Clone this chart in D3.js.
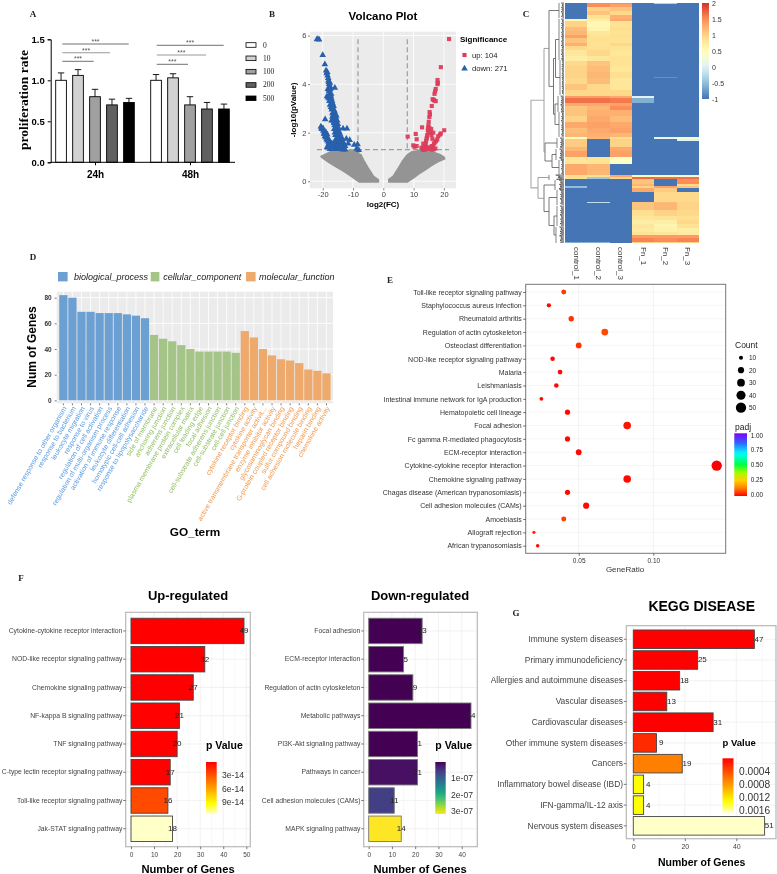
<!DOCTYPE html>
<html><head><meta charset="utf-8">
<script src="https://cdn.jsdelivr.net/npm/d3@7/dist/d3.min.js"></script>
<style>
html,body{margin:0;padding:0;background:#fff;}
svg{display:block;filter:blur(0.35px);}
text{font-family:"Liberation Sans",Arial,sans-serif;}
.serif{font-family:"Liberation Serif",serif;}
</style></head><body><svg id="c" width="777" height="874"></svg>
<script>
// ---------- A
const prolGroups=["24h","48h"];
const prolDoses=["0","10","100","200","500"];
const prolColors=["#ffffff","#d2d2d2","#a0a0a0","#606060","#000000"];
const prolMeans=[[1.0,1.06,0.80,0.70,0.73],[1.0,1.03,0.70,0.65,0.65]];
const prolErr=[[0.09,0.07,0.09,0.07,0.05],[0.07,0.05,0.10,0.08,0.06]];
const prolTicks=[0,0.5,1.0,1.5];
// ---------- B
const downX=[-21.9,-21.6,-21.2,-20,-19.3,-18.9,-18.7,-18.5,-18.4,-18.2,-18,-17.9,-17.7,-17.6,-17.4,-16,-18.3,-17.9,-17.6,-17.3,-17.1,-16.9,-18.6,-18.2,-17.8,-17.6,-17.3,-17,-16.8,-16.6,-16.4,-16.2,-16,-17.1,-16.8,-16.5,-16.3,-16.1,-15.9,-15.7,-15.5,-15.3,-15.1,-14.9,-14.7,-14.5,-14.3,-14.1,-13.8,-13.5,-13.2,-12.9,-12.7,-16.2,-16,-15.8,-15.6,-15.4,-15.2,-15,-14.8,-14.6,-14.4,-14.2,-14,-19.2,-20.6,-20.4,-20.1,-19.8,-19.5,-19.2,-18.9,-18.6,-18.3,-18,-17.7,-17.4,-17.1,-16.8,-16.5,-16.2,-15.9,-15.6,-15.3,-13.3,-12,-12.2,-11.1,-11.6,-12.6,-9.6,-8.5,-8.8,-8.1,-18,-18.6,-17.1,-17.6,-16.6,-16.2,-15.8,-15.2,-14.7,-14.3,-13.7,-13.3,
-18.1,-17.8,-17.5,-17.9,-17.5,-17.2,-17,-16.7,-16.9,-16.4,-16.6,-16.1,-15.9,-15.7,-16.2,-15.5,-15.2,-15,-14.8,-15.5,-15.3,-14.6,-14.3,-14.8,-14.5,-14.1,-13.8,-13.5,-13.2,-15.1,-16.9,-16.3,-15.4,-14.9,-20.3,-19.9,-19.6,-19.3,-19,-18.7,-18.4,-18.1,-17.8,-17.5,-17.2,-16.9,-19,-18.5];
const downY=[5.85,5.86,5.84,5.2,4.82,4.56,4.45,4.5,4.35,4.25,4.08,4.0,3.92,4.05,3.85,3.85,3.8,3.7,3.6,3.5,3.4,3.3,3.5,3.45,3.3,3.15,3.05,2.95,2.8,3.0,2.85,2.75,2.6,2.5,2.65,2.5,2.4,2.3,2.55,2.4,2.4,2.25,2.1,2.0,1.95,1.85,1.8,1.7,1.6,1.5,1.42,1.35,1.3,2.15,2.0,1.9,1.75,1.65,1.55,1.5,1.42,1.35,1.5,1.6,1.4,2.55,2.25,2.2,2.15,2.08,2.0,1.95,1.88,1.82,1.76,1.7,1.65,1.58,1.52,1.48,1.42,1.38,1.33,1.35,1.32,2.17,2.17,1.75,1.7,1.55,1.45,1.5,1.52,1.34,1.28,1.55,1.4,1.42,1.33,1.32,1.58,1.33,1.45,1.32,1.36,1.34,1.3,
4.15,3.75,3.8,3.4,3.55,3.6,3.15,3.2,3.0,3.1,2.7,2.9,2.8,2.65,2.45,2.7,2.5,2.35,2.2,2.1,1.95,2.05,1.95,1.75,1.6,1.5,1.4,1.75,1.6,1.7,1.38,1.32,1.45,1.33,2.15,2.18,1.95,1.85,1.8,1.72,1.68,1.62,1.57,1.5,1.45,1.55,2.03,1.92];
const upX=[21.7,19,17.9,18,17.9,17.3,17.1,16.9,16.6,16.3,16.8,17.3,16,15.3,15.4,15.2,15,14.9,14.8,14.7,14.9,14.5,14.4,14.3,14.1,14,13.8,13.7,13.5,13.3,13.1,15.2,15.8,15.5,16.5,15.9,16.2,12.8,20.1,19,18.7,18.1,17.8,17.4,17,16.7,16.4,16,15.5,15.1,14.7,17.2,16.7,16.2,10.7,11,8.05,9.9,11,10.3,13.2,12.6,13.6];
const upY=[5.86,4.7,4.17,4.05,4.0,3.8,3.7,3.6,3.35,3.38,3.33,3.3,3.1,2.85,2.75,2.65,2.45,2.3,2.2,2.1,2.0,1.9,1.8,1.75,1.65,1.55,1.45,1.38,1.32,1.4,1.3,2.2,2.15,2.0,2.0,1.9,1.75,2.22,2.1,1.97,1.92,1.85,1.72,1.65,1.6,1.55,1.42,1.45,1.35,1.4,1.33,1.35,1.32,1.3,1.95,1.73,1.84,1.48,1.45,1.42,1.55,1.38,1.3];
const grayLeftX=[-20.6,-19,-17,-15,-13,-11,-9.5,-8.3,-8,-7.4,-6.4,-5,-3.2,-1.8,-1.6,-1.6,-8,-10,-12,-14,-16,-18,-20];
const grayLeftY=[1.02,1.12,1.25,1.32,1.32,1.25,1.25,1.3,1.1,1.1,0.85,0.55,0.2,0.08,0.05,-0.03,-0.03,0.15,0.32,0.48,0.62,0.78,0.95];
const grayRightX=[1.8,3.2,5,6.4,8,9.5,11,13,15,17,19,20,20.3,18,16,14,12,10,8,1.8];
const grayRightY=[0.08,0.2,0.55,0.85,1.1,1.22,1.25,1.32,1.25,1.18,1.08,1.0,0.92,0.8,0.65,0.48,0.32,0.14,-0.03,-0.03];
const volcanoXTicks=[-20,-10,0,10,20];
const volcanoYTicks=[0,2,4,6];
// ---------- C  [rows, control_1, control_2, control_3, Fn_1, Fn_2, Fn_3]
const heatSamples=["control_1","control_2","control_3","Fn_1","Fn_2","Fn_3"];
const heatBands=[
[1,-1,1.5,1.5,-1,-0.3,-1],[3,-1,1.5,1.35,-1,-1,-1],[4,-1,1.0,1.1,-1,-1,-1],[4,-1,1.1,0.95,-1,-1,-1],[4,-1,0.85,1.25,-1,-1,-1],
[2,0.6,0.7,1.3,-1,-1,-1],[6,1.0,0.55,0.85,-1,-1,-1],[4,1.15,0.6,0.9,-1,-1,-1],[4,1.2,0.8,0.85,-1,-1,-1],[3,1.35,0.85,0.9,-1,-1,-1],
[5,1.1,0.9,0.85,-1,-1,-1],[3,1.25,0.85,0.95,-1,-1,-1],[4,0.95,0.9,0.85,-1,-1,-1],[6,0.8,0.95,0.8,-1,-1,-1],[5,0.7,0.8,0.85,-1,-1,-1],
[4,0.95,1.1,0.85,-1,-1,-1],[6,1.0,1.15,0.8,-1,-1,-1],[5,1.0,1.2,0.9,-1,-1,-1],[1,1.0,1.2,0.9,-1,-0.8,-1],[6,0.95,1.15,0.8,-1,-1,-1],[6,1.1,0.95,0.8,-1,-1,-1],
[6,0.95,0.95,0.95,-1,-1,-1],[2,1.4,1.4,1.3,0.0,-1,-1],[5,1.65,1.65,1.6,-0.6,-1,-1],[3,1.3,1.3,1.35,-1,-1,-1],[4,1.1,1.2,1.5,-1,-1,-1],
[6,1.1,1.25,1.25,-1,-1,-1],[6,1.0,1.3,1.15,-1,-1,-1],[6,1.3,1.35,1.3,-1,-1,-1],[5,1.15,1.3,1.35,-1,-1,-1],[4,1.2,1.25,1.2,-1,-1,-1],
[2,0.5,1.2,0.9,-1,0.1,0.3],[2,1.05,-1,1.0,-1,-1,0.0],[6,1.05,-1,1.0,-1,-1,-1],[4,1.2,-1,1.3,-1,-1,-1],[6,1.35,-1,1.35,-1,-1,-1],
[7,0.8,0.85,0.4,-1,-1,-1],[11,1.3,1.2,-1,-1,-1,-1],[2,0.9,0.9,1.3,0.5,0.5,0.3],[2,0.9,-0.4,1.0,1.7,1.65,1.65],[4,-1,-1,-1,1.1,-1,1.5],[2,-1,-1,-1,1.2,-1,0.95],
[2,-0.5,-1,-1,1.0,1.35,1.1],[4,-1,-1,-1,1.3,1.05,-1],[10,-1,-1,-1,-1,0.95,0.95],[1,-1,-0.2,-1,1.1,1.15,1.0],[7,-1,-1,-1,1.1,1.2,1.0],
[6,-1,-1,-1,0.9,1.0,0.95],[4,-1,-1,-1,0.8,0.85,0.9],[4,-1,-1,-1,0.7,0.7,0.95],[4,-1,-1,-1,0.8,0.6,0.85],[4,-1,-1,-1,0.75,0.65,0.7],[3,-1,-1,-1,0.85,0.8,0.75],
[3,-1,-1,-1,1.4,1.4,1.4],[4,-1,-1,-1,1.55,1.5,1.55],[1,-0.6,-0.6,-1,1.0,1.0,1.0]];
const heatLegendTicks=[-1,-0.5,0,0.5,1,1.5,2];
const heatStops=[-1,-0.5,0,0.45,0.9,1.5,2];
const heatPalette=["#4575B4","#91BFDB","#E0F3F8","#FFFFBF","#FEE090","#FC8D59","#D73027"];
// ---------- D
const goTerms=["defense response to other organism","response to bacterium","leukocyte migration","response to virus","regulation of cell activation","regulation of multi-organism process","activation of immune response","leukocyte differentiation","homotypic cell-cell adhesion","response to lipopolysaccharide","side of membrane","anchoring junction","adherens junction","plasma membrane protein complex","extracellular matrix","cell leading edge","focal adhesion","cell-substrate adherens junction","cell-substrate junction","cell-cell junction","cytokine receptor binding","cytokine activity","active transmembrane transporter activit...","enzyme inhibitor activity","glycosaminoglycan binding","G-protein coupled receptor binding","sulfur compound binding","cell adhesion molecule binding","heparin binding","chemokine activity"];
const goValues=[82,80,69,69,68,68,68,67,66,64,51,48,46,43,40,38,38,38,38,37,54,49,40,35,32,31,29,24,23,21];
const goGroups=["biological_process","cellular_component","molecular_function"];
const goGroupOfTerm=[0,0,0,0,0,0,0,0,0,0,1,1,1,1,1,1,1,1,1,1,2,2,2,2,2,2,2,2,2,2];
const goColors=["#6c9fd2","#a4c587","#eea96d"];
const goTextColors=["#5a9ce0","#94c068","#f09a50"];
const goYTicks=[0,20,40,60,80];
// ---------- E
const keggTerms=["Toll-like receptor signaling pathway","Staphylococcus aureus infection","Rheumatoid arthritis","Regulation of actin cytoskeleton","Osteoclast differentiation","NOD-like receptor signaling pathway","Malaria","Leishmaniasis","Intestinal immune network for IgA production","Hematopoietic cell lineage","Focal adhesion","Fc gamma R-mediated phagocytosis","ECM-receptor interaction","Cytokine-cytokine receptor interaction","Chemokine signaling pathway","Chagas disease (American trypanosomiasis)","Cell adhesion molecules (CAMs)","Amoebiasis","Allograft rejection","African trypanosomiasis"];
const keggRatio=[0.040,0.030,0.045,0.0675,0.050,0.0325,0.0375,0.035,0.025,0.0425,0.0825,0.0425,0.050,0.1425,0.0825,0.0425,0.055,0.040,0.020,0.0225];
const keggCount=[14,11,16,24,18,12,13,12,9,15,29,15,18,51,29,15,20,14,7,8];
const keggPadj=[0.06,0.01,0.05,0.07,0.05,0.01,0.01,0.01,0.01,0.01,0.02,0.01,0.01,0.0,0.01,0.01,0.01,0.06,0.04,0.01];
const countLegend=[10,20,30,40,50];
const padjTicks=[0,0.25,0.5,0.75,1];
// ---------- F
const upCats=["Cytokine-cytokine receptor interaction","NOD-like receptor signaling pathway","Chemokine signaling pathway","NF-kappa B signaling pathway","TNF signaling pathway","C-type lectin receptor signaling pathway","Toll-like receptor signaling pathway","Jak-STAT signaling pathway"];
const upVals=[49,32,27,21,20,17,16,18];
const upP=[1e-17,1e-17,2e-17,2e-16,3e-16,6e-16,2.7e-14,1.17e-13];
const downCats=["Focal adhesion","ECM-receptor interaction","Regulation of actin cytoskeleton","Metabolic pathways","PI3K-Akt signaling pathway","Pathways in cancer","Cell adhesion molecules (CAMs)","MAPK signaling pathway"];
const downVals=[23,15,19,44,21,21,11,14];
const downP=[1e-10,1e-10,2e-10,3e-10,1e-9,1.3e-8,6e-8,3.2e-7];
// ---------- G
const diseaseCats=["Immune system diseases","Primary immunodeficiency","Allergies and autoimmune diseases","Vascular diseases","Cardiovascular diseases","Other immune system diseases","Cancers","Inflammatory bowel disease (IBD)","IFN-gamma/IL-12 axis","Nervous system diseases"];
const diseaseVals=[47,25,18,13,31,9,19,4,4,51];
const diseaseP=[1e-9,1e-8,2e-8,3e-8,3e-7,2.2e-4,6.7e-4,1.34e-3,1.34e-3,1.67e-3];

const svg=d3.select("#c");
const defs=svg.append("defs");
function T(g,x,y,s,o={}){
  const t=g.append("text").attr("x",x).attr("y",y).text(s)
    .attr("font-size",o.size||8).attr("fill",o.fill||"#000")
    .attr("text-anchor",o.anchor||"start").attr("dominant-baseline",o.base||"central");
  if(o.bold)t.attr("font-weight","bold");
  if(o.italic)t.attr("font-style","italic");
  if(o.serif)t.attr("class","serif");
  if(o.rot!==undefined)t.attr("transform",`rotate(${o.rot} ${x} ${y})`);
  return t;
}
function styleAxis(a,o={}){
  a.select(".domain").attr("stroke",o.domain||"none").attr("stroke-width",o.dw||1);
  a.selectAll(".tick line").attr("stroke",o.tick||"#444").attr("stroke-width",o.tw||0.7);
  a.selectAll(".tick text").attr("fill",o.fill||"#444").attr("font-size",o.size||6.5)
    .attr("font-weight",o.bold?"bold":null).attr("font-family",'"Liberation Sans",sans-serif');
}
function gradient(id,interp){
  const g=defs.append("linearGradient").attr("id",id).attr("x1",0).attr("x2",0).attr("y1",0).attr("y2",1);
  d3.range(0,1.001,0.05).forEach(t=>g.append("stop").attr("offset",t).attr("stop-color",interp(t)));
}
// Panel letters
[["A",33,14],["B",272,14],["C",526,14],["D",33,257],["E",390,280],["F",21,578],["G",516,613]].forEach(d=>T(svg,d[1],d[2],d[0],{size:9,bold:true,serif:true,anchor:"middle",fill:"#222"}));

// ===== A =====
(function(){
  const g=svg.append("g");
  const y=d3.scaleLinear().domain([0,1.5]).range([162.3,39.3]);
  const gx=d3.scalePoint().domain(prolGroups).range([95,190]);
  const bx=d3.scaleBand().domain(prolDoses).range([-39.3,39.3]).paddingInner(0.37);
  prolGroups.forEach((gr,i)=>{
    prolDoses.forEach((d,j)=>{
      const x=gx(gr)+bx(d),w=bx.bandwidth(),m=prolMeans[i][j],e=prolErr[i][j];
      g.append("rect").attr("x",x).attr("y",y(m)).attr("width",w).attr("height",y(0)-y(m))
        .attr("fill",prolColors[j]).attr("stroke","#000").attr("stroke-width",0.9);
      g.append("path").attr("d",`M${x+w/2},${y(m)}V${y(m+e)}M${x+w/2-3.2},${y(m+e)}H${x+w/2+3.2}`)
        .attr("stroke","#000").attr("stroke-width",0.9).attr("fill","none");
    });
  });
  const ay=g.append("g").attr("transform","translate(50.7,0)").call(d3.axisLeft(y).tickValues(prolTicks).tickFormat(d3.format(".1f")).tickSize(3));
  styleAxis(ay,{domain:"#000",tick:"#000",tw:1,fill:"#000",size:9.5,bold:true});
  const ax=g.append("g").attr("transform","translate(0,162.3)").call(d3.axisBottom(gx).tickSize(3));
  styleAxis(ax,{domain:"#000",tick:"#000",tw:1,fill:"#000",size:10,bold:true});
  ax.select(".domain").attr("d","M50.7,0H235");
  ax.selectAll(".tick text").attr("font-family",'"Liberation Serif",serif').attr("dy","0.95em");
  T(g,23,100,"proliferation rate",{size:13.5,bold:true,serif:true,rot:-90,anchor:"middle"});
  [[62.3,128.7,44,"#333"],[62.3,110,52.7,"#999"],[62.3,93.7,61.3,"#333"],[156.7,223.7,45.3,"#333"],[156.7,206,55,"#999"],[156.7,188,64.3,"#333"]].forEach(s=>{
    g.append("line").attr("x1",s[0]).attr("x2",s[1]).attr("y1",s[2]).attr("y2",s[2]).attr("stroke",s[3]).attr("stroke-width",s[3]=="#999"?1.1:0.7);
    T(g,(s[0]+s[1])/2,s[2]-2.5,"***",{size:7,anchor:"middle",fill:"#555"});
  });
  const ly=d3.scalePoint().domain(prolDoses).range([45,98.3]);
  prolDoses.forEach((d,j)=>{
    g.append("rect").attr("x",246).attr("y",ly(d)-2.3).attr("width",10).attr("height",4.6).attr("fill",prolColors[j]).attr("stroke","#000").attr("stroke-width",0.8);
    T(g,263,ly(d),d,{size:7.5,serif:true,fill:"#222"});
  });
})();

// ===== B =====
(function(){
  const g=svg.append("g");
  const x=d3.scaleLinear().domain([-24.2,24]).range([310,456]);
  const y=d3.scaleLinear().domain([-0.29,6.16]).range([188.3,31.7]);
  g.append("rect").attr("x",310).attr("y",31.7).attr("width",146).attr("height",156.6).attr("fill","#ebebeb");
  volcanoXTicks.forEach(v=>g.append("line").attr("x1",x(v)).attr("x2",x(v)).attr("y1",31.7).attr("y2",188.3).attr("stroke","#fff").attr("stroke-width",0.8));
  volcanoYTicks.forEach(v=>g.append("line").attr("y1",y(v)).attr("y2",y(v)).attr("x1",310).attr("x2",456).attr("stroke","#fff").attr("stroke-width",0.8));
  const ln=d3.line().x(d=>x(d[0])).y(d=>y(d[1]));
  [[grayLeftX,grayLeftY],[grayRightX,grayRightY]].forEach(a=>{
    g.append("path").attr("d",ln(d3.zip(a[0],a[1]))+"Z").attr("fill","#949494").attr("stroke","#949494").attr("stroke-width",1.5).attr("stroke-linejoin","round");
  });
  const dash=(a,b,c,e)=>g.append("line").attr("x1",x(a)).attr("y1",y(b)).attr("x2",x(c)).attr("y2",y(e)).attr("stroke","#8c8c8c").attr("stroke-width",1).attr("stroke-dasharray","5 3");
  dash(-8.35,5.85,-8.35,1.3);dash(7.9,5.85,7.9,1.3);dash(-21.9,1.3,21.7,1.3);
  const tri=d3.symbol().type(d3.symbolTriangle).size(19)();
  const sq=d3.symbol().type(d3.symbolSquare).size(17)();
  d3.zip(downX,downY).forEach(p=>g.append("path").attr("d",tri).attr("transform",`translate(${x(p[0])},${y(p[1])})`).attr("fill","#2860ac"));
  d3.zip(upX,upY).forEach(p=>g.append("path").attr("d",sq).attr("transform",`translate(${x(p[0])},${y(p[1])})`).attr("fill","#dc3c5c").attr("fill-opacity",0.95));
  const ax=g.append("g").attr("transform","translate(0,188.3)").call(d3.axisBottom(x).tickValues(volcanoXTicks).tickFormat(String).tickSize(2).tickPadding(1));
  styleAxis(ax,{size:7.5,fill:"#444"});
  const ay=g.append("g").attr("transform","translate(310,0)").call(d3.axisLeft(y).tickValues(volcanoYTicks).tickFormat(String).tickSize(2).tickPadding(1.5));
  styleAxis(ay,{size:7.5,fill:"#444"});
  T(g,383,16,"Volcano Plot",{size:11.5,bold:true,anchor:"middle"});
  T(g,383,204,"log2(FC)",{size:8,bold:true,anchor:"middle"});
  T(g,293,110,"-log10(pValue)",{size:8,bold:true,anchor:"middle",rot:-90});
  T(g,460,39,"Significance",{size:8,bold:true});
  g.append("path").attr("d",sq).attr("transform","translate(464.5,55)").attr("fill","#dc3c5c");
  g.append("path").attr("d",tri).attr("transform","translate(464.5,68.5)").attr("fill","#2860ac");
  T(g,472,55,"up: 104",{size:7.7,fill:"#222"});
  T(g,472,68.5,"down: 271",{size:7.7,fill:"#222"});
})();

// ===== C =====
(function(){
  const g=svg.append("g");
  const col=d3.scaleLinear().domain(heatStops).range(heatPalette).clamp(true);
  const x=d3.scaleBand().domain(heatSamples).range([565,699]);
  const total=d3.sum(heatBands,b=>b[0]);
  const y=d3.scaleLinear().domain([0,total]).range([3,243]);
  let acc=0;
  const hg=g.append("g").attr("shape-rendering","crispEdges");
  heatBands.forEach(b=>{
    heatSamples.forEach((s,i)=>{
      hg.append("rect").attr("x",x(s)).attr("y",y(acc)).attr("width",x.bandwidth()+0.2).attr("height",y(acc+b[0])-y(acc)+0.3).attr("fill",col(b[i+1]));
    });
    acc+=b[0];
  });
  heatSamples.forEach(s=>T(g,x(s)+x.bandwidth()/2,247,s,{size:8,rot:90,fill:"#333"}));
  // colour legend
  const ly=d3.scaleLinear().domain([-1,2]).range([99,3]);
  gradient("heatG",t=>col(ly.invert(3+t*96)));
  g.append("rect").attr("x",702).attr("y",3).attr("width",7).attr("height",96).attr("fill","url(#heatG)");
  heatLegendTicks.forEach(v=>T(g,712,ly(v),String(v),{size:7,fill:"#333"}));
  // dendrogram
  const tw=[0.55,0.25,0.4,0.15,0.5,0.3,0.45,0.2];
  const L=h=>564-h;
  const dg=g.append("g").attr("fill","none");
  function comb(h,y0,y1){
    let d=`M${L(h)},${y0}V${y1}`,z="";let i=0;
    for(let yy=y0;yy<=y1+0.01;yy+=1.1,i++){
      const xx=L(h*tw[i%8]);
      z+=(i?"L":"M")+xx+","+yy;
      d+=`M${xx},${yy}H564`;
    }
    dg.append("path").attr("d",d+z).attr("stroke","#333").attr("stroke-width",0.6);
    return (y0+y1)/2;
  }
  function node(n,depth){
    if(n[0]==="c"){return {y:comb(n[1],n[2],n[3]),h:n[1]};}
    const a=node(n[1],depth+1),b=node(n[2],depth+1),h=n[0];
    dg.append("path").attr("d",`M${L(a.h)},${a.y}H${L(h)}V${b.y}H${L(b.h)}`)
      .attr("stroke",depth==0?"#aaa":depth==1?"#888":"#555").attr("stroke-width",depth==0?1.1:0.8);
    return {y:(a.y+b.y)/2,h};
  }
  const tree=[33,
    [20,
      [15,["c",5,3,18],[10.5,[8.5,["c",5,19,60],["c",4,60,95]],[9,["c",6,96,112],["c",5,112,137]]]],
      [19,["c",7,138,148],[12,["c",8,149,160],["c",5,160,175]]]],
    [26,["c",15,175,180],[20,["c",9,180,190],[15,["c",7,190,205],[10,["c",7,206,226],["c",8,227,243]]]]]];
  node(tree,0);
})();

// ===== D =====
(function(){
  const g=svg.append("g");
  const x=d3.scaleBand().domain(goTerms).range([58.4,331.4]).padding(0.09);
  const y=d3.scaleLinear().domain([0,80]).range([400.3,297.7]);
  const y0=291.7,y1=403.3,x0=56.7,x1=333;
  g.append("rect").attr("x",x0).attr("y",y0).attr("width",x1-x0).attr("height",y1-y0).attr("fill","#ebebeb");
  goYTicks.forEach(v=>g.append("line").attr("x1",x0).attr("x2",x1).attr("y1",y(v)).attr("y2",y(v)).attr("stroke","#fff").attr("stroke-width",0.9));
  goTerms.forEach(t=>g.append("line").attr("x1",x(t)+x.bandwidth()/2).attr("x2",x(t)+x.bandwidth()/2).attr("y1",y0).attr("y2",y1).attr("stroke","#fff").attr("stroke-width",0.8));
  goTerms.forEach((t,i)=>g.append("rect").attr("x",x(t)).attr("y",y(goValues[i])).attr("width",x.bandwidth()).attr("height",y(0)-y(goValues[i])).attr("fill",goColors[goGroupOfTerm[i]]));
  const ay=g.append("g").attr("transform",`translate(${x0},0)`).call(d3.axisLeft(y).tickValues(goYTicks).tickSize(2));
  styleAxis(ay,{size:6.5,bold:true,fill:"#333"});
  const ax=g.append("g").attr("transform",`translate(0,${y1})`).call(d3.axisBottom(x).tickSize(2).tickFormat(""));
  styleAxis(ax,{});
  goTerms.forEach((t,i)=>T(g,x(t)+x.bandwidth()/2+1.5,407,t,{size:7,anchor:"end",rot:-60,fill:goTextColors[goGroupOfTerm[i]]}));
  T(g,32,347,"Num of Genes",{size:12,bold:true,anchor:"middle",rot:-90});
  T(g,195,531.6,"GO_term",{size:11.8,bold:true,anchor:"middle"});
  [[58,74],[150.7,163.3],[246,259]].forEach((p,i)=>{
    g.append("rect").attr("x",p[0]).attr("y",272).attr("width",i==1?8.7:9.6).attr("height",9.4).attr("fill",goColors[i]);
    T(g,p[1],277,goGroups[i],{size:9,italic:true,fill:"#222"});
  });
})();

// ===== E =====
(function(){
  const g=svg.append("g");
  const x0=525.7,x1=725.7,y0=284.3,y1=553.3;
  const x=d3.scaleLinear().domain([0.05,0.10]).range([578.7,653.3]);
  const y=d3.scalePoint().domain(keggTerms).range([292,545.7]);
  const r=d3.scaleSqrt().domain([5,51]).range([1.3,5.2]);
  const rainbowD=[0,0.125,0.25,0.375,0.5,0.68,0.85,1],rainbowR=["#ff0000","#ff8000","#ffd000","#a0ff00","#00ff40","#00ffff","#3060ff","#8000ff"];
  const col=d3.scaleLinear().domain(rainbowD).range(rainbowR);
  [0.05,0.10].forEach(v=>g.append("line").attr("x1",x(v)).attr("x2",x(v)).attr("y1",y0).attr("y2",y1).attr("stroke","#ececec").attr("stroke-width",0.7));
  keggTerms.forEach(t=>g.append("line").attr("x1",x0).attr("x2",x1).attr("y1",y(t)).attr("y2",y(t)).attr("stroke","#f0f0f0").attr("stroke-width",0.6));
  g.append("rect").attr("x",x0).attr("y",y0).attr("width",x1-x0).attr("height",y1-y0).attr("fill","none").attr("stroke","#777").attr("stroke-width",1);
  keggTerms.forEach((t,i)=>g.append("circle").attr("cx",x(keggRatio[i])).attr("cy",y(t)).attr("r",r(keggCount[i])).attr("fill",col(keggPadj[i])));
  const ay=g.append("g").attr("transform",`translate(${x0},0)`).call(d3.axisLeft(y).tickSize(2.5).tickPadding(1.5));
  styleAxis(ay,{size:7,fill:"#333",tick:"#333"});
  const ax=g.append("g").attr("transform",`translate(0,${y1})`).call(d3.axisBottom(x).tickValues([0.05,0.10]).tickFormat(d3.format(".2f")).tickSize(2.5));
  styleAxis(ax,{size:6.5,fill:"#333",tick:"#333"});
  T(g,625,569.5,"GeneRatio",{size:8,anchor:"middle",fill:"#333"});
  T(g,735,345,"Count",{size:8.5,fill:"#222"});
  const ly=d3.scalePoint().domain(countLegend).range([357.7,407.7]);
  countLegend.forEach(c=>{
    g.append("circle").attr("cx",741).attr("cy",ly(c)).attr("r",r(c)).attr("fill","#000");
    T(g,749,ly(c),c,{size:6.5,fill:"#222"});
  });
  T(g,735,427,"padj",{size:8.5,fill:"#222"});
  gradient("padjG",t=>col(1-t));
  g.append("rect").attr("x",734.3).attr("y",433.3).attr("width",12.7).attr("height",62.7).attr("fill","url(#padjG)");
  const py=d3.scaleLinear().domain([0,1]).range([494,435]);
  padjTicks.forEach(v=>T(g,750.7,py(v),d3.format(".2f")(v),{size:6.3,fill:"#222"}));
})();

// ===== F, G =====
const heatRamp=d3.scaleLinear().domain([0,0.8,1]).range(["#ff0000","#ffff00","#ffffc8"]);
function barPanel(o){
  const g=svg.append("g");
  const x=d3.scaleLinear().domain(o.xdom).range(o.xrange);
  const y=d3.scaleBand().domain(o.cats).range(o.yband).padding(o.pad);
  const [px0,px1]=o.px,[py0,py1]=o.py;
  o.minor.forEach(v=>g.append("line").attr("x1",x(v)).attr("x2",x(v)).attr("y1",py0).attr("y2",py1).attr("stroke","#f3f3f3").attr("stroke-width",0.6));
  o.ticks.forEach(v=>g.append("line").attr("x1",x(v)).attr("x2",x(v)).attr("y1",py0).attr("y2",py1).attr("stroke","#ececec").attr("stroke-width",0.7));
  o.cats.forEach(c=>g.append("line").attr("x1",px0).attr("x2",px1).attr("y1",y(c)+y.bandwidth()/2).attr("y2",y(c)+y.bandwidth()/2).attr("stroke","#ececec").attr("stroke-width",0.7));
  g.append("rect").attr("x",px0).attr("y",py0).attr("width",px1-px0).attr("height",py1-py0).attr("fill","none").attr("stroke","#b8b8b8").attr("stroke-width",1.2);
  o.cats.forEach((c,i)=>{
    g.append("rect").attr("x",x(0)).attr("y",y(c)).attr("width",x(o.vals[i])-x(0)).attr("height",y.bandwidth())
      .attr("fill",o.color(o.p[i])).attr("stroke",o.stroke||"#444").attr("stroke-width",0.9);
    T(g,x(o.vals[i])+o.lab,y(c)+y.bandwidth()/2,o.vals[i],{size:o.labSize,anchor:"middle",fill:"#222"});
  });
  const ay=g.append("g").attr("transform",`translate(${px0},0)`).call(d3.axisLeft(y).tickSize(2.5).tickPadding(0.8));
  styleAxis(ay,{size:o.catSize,fill:"#444"});
  const ax=g.append("g").attr("transform",`translate(0,${py1})`).call(d3.axisBottom(x).tickValues(o.ticks).tickSize(2.5));
  styleAxis(ax,{size:o.tickSize,fill:"#444"});
  T(g,o.cx,o.titleY,o.title,{size:o.titleSize,bold:true,anchor:"middle"});
  T(g,o.cx,o.xlabY,"Number of Genes",{size:o.xlabSize,bold:true,anchor:"middle"});
  T(g,o.lx,o.ltY,"p Value",{size:o.ltSize,bold:true});
  gradient(o.id,t=>o.color(o.pmax*t));
  g.append("rect").attr("x",o.lx).attr("y",o.ly[0]).attr("width",o.lw).attr("height",o.ly[1]-o.ly[0]).attr("fill",`url(#${o.id})`);
  const ls=d3.scaleLinear().domain([0,o.pmax]).range(o.ly);
  o.lticks.forEach(v=>T(g,o.ltx,ls(v),o.lfmt(v),{size:o.lSize,fill:"#333"}));
}
const sci=v=>{const s=v.toExponential(0);return s.replace(/e-(\d)$/,"e-0$1");};
barPanel({id:"upG",cats:upCats,vals:upVals,p:upP,pmax:1.17e-13,color:v=>heatRamp(v/1.17e-13),xdom:[0,50],xrange:[131,246.3],
  yband:[615.4,844.3],pad:0.1,px:[125.7,250.3],py:[612.3,846.7],ticks:[0,10,20,30,40,50],minor:[5,15,25,35,45],lab:0,labSize:8,catSize:6.8,tickSize:6.5,
  cx:188,title:"Up-regulated",titleY:595,titleSize:13,xlabY:869,xlabSize:11.2,lx:206,ltY:745,ltSize:10.5,ly:[762,814],lw:10.7,ltx:222,lticks:[3e-14,6e-14,9e-14],lfmt:sci,lSize:8.6});
barPanel({id:"downG",cats:downCats,vals:downVals,p:downP,pmax:3.2e-7,color:v=>d3.interpolateViridis(v/3.2e-7),stroke:"#777",xdom:[0,40],xrange:[368.7,461.7],
  yband:[615.4,844.3],pad:0.1,px:[363.7,477.3],py:[612.3,846.7],ticks:[0,10,20,30,40],minor:[5,15,25,35],lab:0,labSize:8,catSize:6.8,tickSize:6.5,
  cx:420,title:"Down-regulated",titleY:595,titleSize:13,xlabY:869,xlabSize:11.2,lx:435.3,ltY:745,ltSize:10.5,ly:[762,814],lw:10.4,ltx:451,lticks:[1e-7,2e-7,3e-7],lfmt:sci,lSize:8.6});
barPanel({id:"kegG",cats:diseaseCats,vals:diseaseVals,p:diseaseP,pmax:1.67e-3,color:v=>heatRamp(v/1.67e-3),xdom:[0,40],xrange:[633.3,736.3],
  yband:[627.8,837.3],pad:0.105,px:[626.3,776],py:[625.7,838.7],ticks:[0,20,40],minor:[10,30,50],lab:4.7,labSize:8,catSize:8.4,tickSize:7,
  cx:701.7,title:"KEGG DISEASE",titleY:606,titleSize:14,xlabY:862,xlabSize:10.5,lx:722.5,ltY:742,ltSize:9.5,ly:[758.3,812.7],lw:11,ltx:739,lticks:[4e-4,8e-4,12e-4,16e-4],lfmt:d3.format(".4f"),lSize:10.2});
</script></body></html>
